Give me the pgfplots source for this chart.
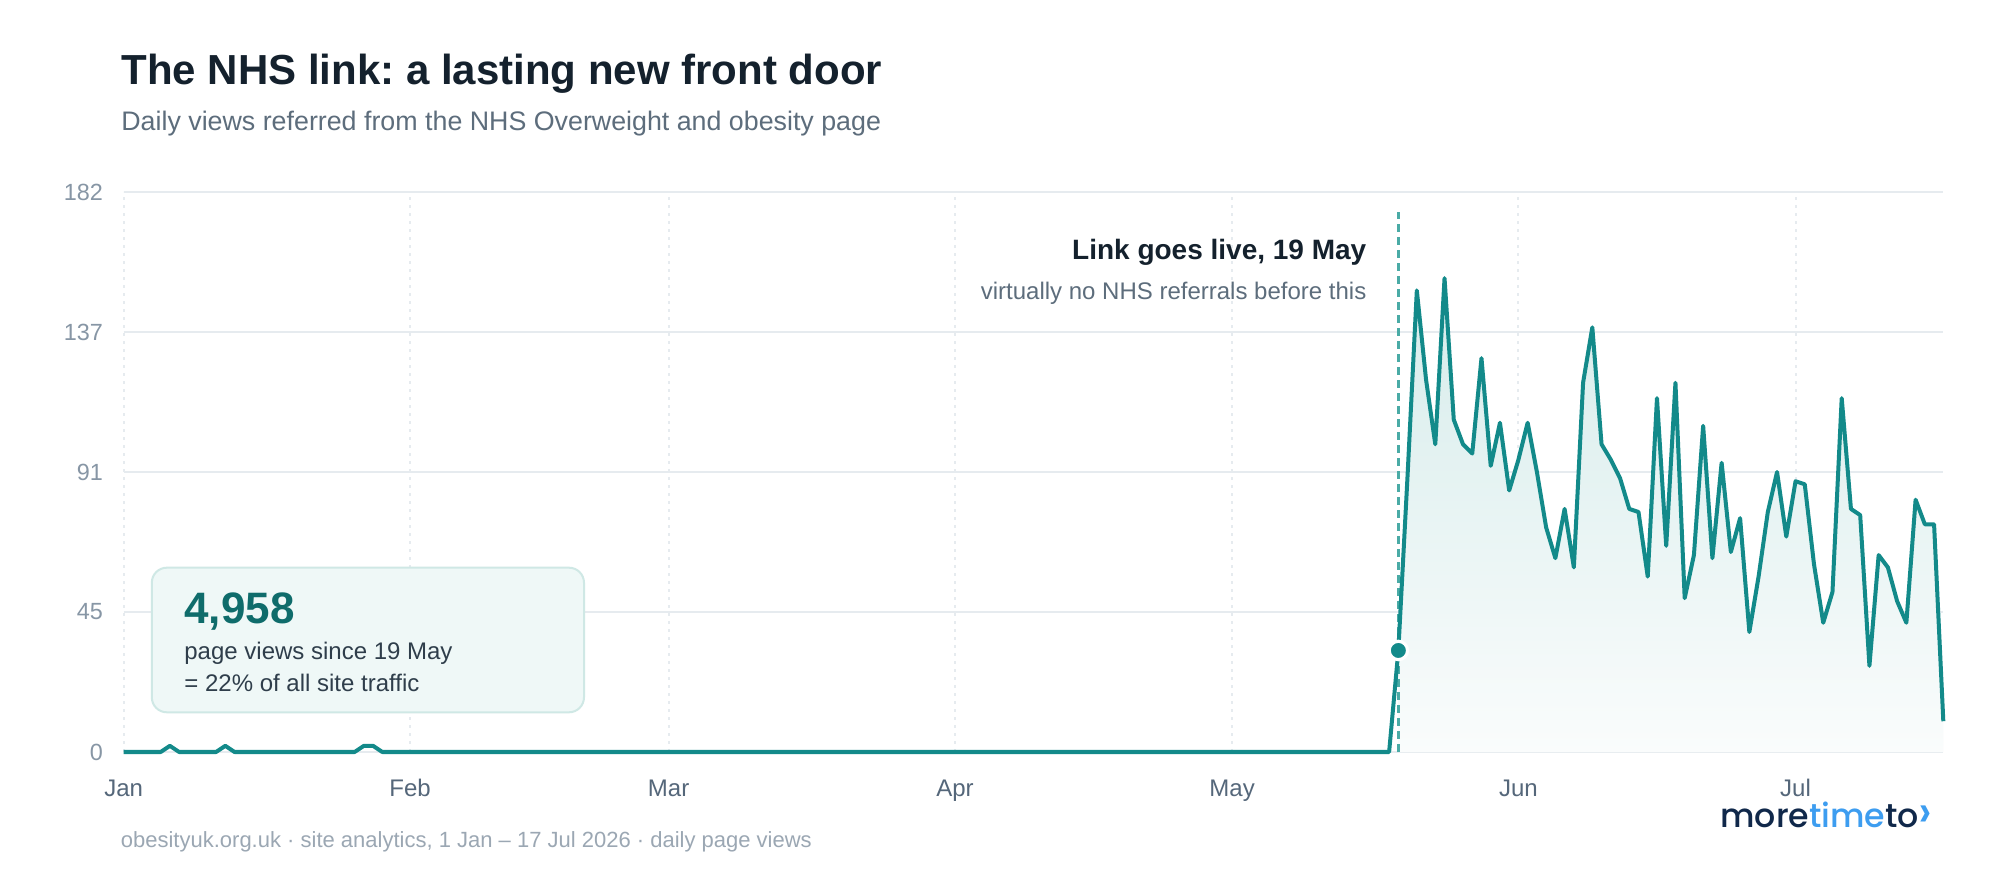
\documentclass[border=0pt]{standalone}
\usepackage{pgfplots}
\pgfplotsset{compat=1.18}
\usepackage{pgfplotstable}
\usepackage{fontspec}
\setmainfont{Liberation Sans}
\newfontfamily\logofont{Poppins Medium}
\frenchspacing

\definecolor{ink}{HTML}{14212D}
\definecolor{subink}{HTML}{5D6D7C}
\definecolor{ytickc}{HTML}{8796A5}
\definecolor{xtickc}{HTML}{55677A}
\definecolor{footc}{HTML}{9BA7B3}
\definecolor{gridc}{HTML}{E6EBEF}
\definecolor{tealline}{HTML}{138A8A}
\definecolor{tealdash}{HTML}{4AABA6}
\definecolor{fillTop}{HTML}{D6ECEB}
\definecolor{fillBot}{HTML}{FAFCFC}
\definecolor{boxfill}{HTML}{EFF8F7}
\definecolor{boxline}{HTML}{CFE8E5}
\definecolor{bignum}{HTML}{0F6C6B}
\definecolor{boxtext}{HTML}{2F3E4B}
\definecolor{navy}{HTML}{10284A}
\definecolor{brandblue}{HTML}{3D9DF0}

% daily page views referred from the NHS page, day 0 = 1 Jan 2026
\pgfplotstableread[row sep=\\]{
day views\\
0 0\\ 1 0\\ 2 0\\ 3 0\\ 4 0\\ 5 2\\ 6 0\\ 7 0\\ 8 0\\ 9 0\\
10 0\\ 11 2\\ 12 0\\ 13 0\\ 14 0\\ 15 0\\ 16 0\\ 17 0\\ 18 0\\ 19 0\\
20 0\\ 21 0\\ 22 0\\ 23 0\\ 24 0\\ 25 0\\ 26 2\\ 27 2\\ 28 0\\ 29 0\\
30 0\\ 31 0\\ 32 0\\ 33 0\\ 34 0\\ 35 0\\ 36 0\\ 37 0\\ 38 0\\ 39 0\\
40 0\\ 41 0\\ 42 0\\ 43 0\\ 44 0\\ 45 0\\ 46 0\\ 47 0\\ 48 0\\ 49 0\\
50 0\\ 51 0\\ 52 0\\ 53 0\\ 54 0\\ 55 0\\ 56 0\\ 57 0\\ 58 0\\ 59 0\\
60 0\\ 61 0\\ 62 0\\ 63 0\\ 64 0\\ 65 0\\ 66 0\\ 67 0\\ 68 0\\ 69 0\\
70 0\\ 71 0\\ 72 0\\ 73 0\\ 74 0\\ 75 0\\ 76 0\\ 77 0\\ 78 0\\ 79 0\\
80 0\\ 81 0\\ 82 0\\ 83 0\\ 84 0\\ 85 0\\ 86 0\\ 87 0\\ 88 0\\ 89 0\\
90 0\\ 91 0\\ 92 0\\ 93 0\\ 94 0\\ 95 0\\ 96 0\\ 97 0\\ 98 0\\ 99 0\\
100 0\\ 101 0\\ 102 0\\ 103 0\\ 104 0\\ 105 0\\ 106 0\\ 107 0\\ 108 0\\ 109 0\\
110 0\\ 111 0\\ 112 0\\ 113 0\\ 114 0\\ 115 0\\ 116 0\\ 117 0\\ 118 0\\ 119 0\\
120 0\\ 121 0\\ 122 0\\ 123 0\\ 124 0\\ 125 0\\ 126 0\\ 127 0\\ 128 0\\ 129 0\\
130 0\\ 131 0\\ 132 0\\ 133 0\\ 134 0\\ 135 0\\ 136 0\\ 137 0\\ 138 33\\ 139 90\\
140 150\\ 141 121\\ 142 100\\ 143 154\\ 144 108\\ 145 100\\ 146 97\\ 147 128\\ 148 93\\ 149 107\\
150 85\\ 151 95\\ 152 107\\ 153 91\\ 154 73\\ 155 63\\ 156 79\\ 157 60\\ 158 120\\ 159 138\\
160 100\\ 161 95\\ 162 89\\ 163 79\\ 164 78\\ 165 57\\ 166 115\\ 167 67\\ 168 120\\ 169 50\\
170 64\\ 171 106\\ 172 63\\ 173 94\\ 174 65\\ 175 76\\ 176 39\\ 177 57\\ 178 78\\ 179 91\\
180 70\\ 181 88\\ 182 87\\ 183 61\\ 184 42\\ 185 52\\ 186 115\\ 187 79\\ 188 77\\ 189 28\\
190 64\\ 191 60\\ 192 49\\ 193 42\\ 194 82\\ 195 74\\ 196 74\\ 197 10\\
}\views

\begin{document}
\begin{tikzpicture}
\path[fill=white] (0,0) rectangle (1000bp,440bp);

\begin{axis}[
    at={(61.85bp,64bp)}, anchor=south west,
    scale only axis, width=909.8bp, height=280bp,
    xmin=0, xmax=197, ymin=0, ymax=182,
    clip=false,
    axis line style={draw=none},
    major tick length=0pt,
    xtick={0,31,59,90,120,151,181},
    xticklabels={Jan,Feb,Mar,Apr,May,Jun,Jul},
    ytick={0,45.5,91,136.5,182},
    yticklabels={0,45,91,137,182},
    xmajorgrids, ymajorgrids,
    major x grid style={draw=gridc, line width=1bp, dash pattern=on 1.5bp off 2.5bp},
    major y grid style={draw=gridc, line width=1bp},
    xticklabel style={anchor=base, inner sep=0pt, yshift=-22bp, text=xtickc,
        font=\fontsize{12bp}{14bp}\selectfont},
    yticklabel style={anchor=east, inner sep=0pt, xshift=-10.2bp, text=ytickc,
        font=\fontsize{11.7bp}{14bp}\selectfont},
]
% shaded area after the link went live
\addplot[draw=none, top color=fillTop, bottom color=fillBot,
    restrict x to domain=138:197]
    table[x=day, y=views] {\views} \closedcycle;
% launch marker line
\draw[tealdash, line width=1.25bp, dash pattern=on 4bp off 2.5bp]
    (axis cs:138,0) -- (axis cs:138,175.5);
\addplot[tealline, line width=2bp, line join=round, mark=none]
    table[x=day, y=views] {\views};
\addplot[only marks, mark=*, mark size=4.6bp,
    mark options={fill=tealline, draw=white, line width=1.6bp}]
    coordinates {(138,33)};
\end{axis}

% titles
\node[anchor=base west, inner sep=0pt, text=ink,
    font=\fontsize{21bp}{24bp}\selectfont\bfseries] at (60.5bp,397.5bp)
    {The NHS link: a lasting new front door};
\node[anchor=base west, inner sep=0pt, text=subink,
    font=\fontsize{13.4bp}{16bp}\selectfont] at (60.5bp,374.65bp)
    {Daily views referred from the NHS Overweight and obesity page};

% annotation for the launch
\node[anchor=base east, inner sep=0pt, text=ink,
    font=\fontsize{14bp}{16bp}\selectfont\bfseries] at (683.35bp,310bp)
    {Link goes live, 19 May};
\node[anchor=base east, inner sep=0pt, text=subink,
    font=\fontsize{12bp}{14bp}\selectfont] at (683.35bp,290bp)
    {virtually no NHS referrals before this};

% callout box
\draw[fill=boxfill, draw=boxline, line width=1bp, rounded corners=7.5bp]
    (75.9bp,83.85bp) rectangle (292bp,156.15bp);
\node[anchor=base west, inner sep=0pt, text=bignum,
    font=\fontsize{22bp}{24bp}\selectfont\bfseries] at (92bp,128.35bp) {4,958};
\node[anchor=base west, inner sep=0pt, text=boxtext,
    font=\fontsize{12bp}{14bp}\selectfont] at (92bp,110.35bp)
    {page views since 19 May};
\node[anchor=base west, inner sep=0pt, text=boxtext,
    font=\fontsize{12bp}{14bp}\selectfont] at (92bp,94.15bp)
    {= 22\% of all site traffic};

% footer and logo
\node[anchor=base west, inner sep=0pt, text=footc,
    font=\fontsize{11bp}{13bp}\selectfont] at (60.25bp,16.35bp)
    {obesityuk.org.uk · site analytics, 1 Jan – 17 Jul 2026 · daily page views};
\node[anchor=base west, inner sep=0pt,
    font=\fontsize{16.6bp}{20bp}\logofont] at (860bp,26.15bp)
    {\textcolor{navy}{more}\textcolor{brandblue}{time}\textcolor{navy}{to}\textcolor{brandblue}{\fontsize{23bp}{20bp}\selectfont ›}};
\end{tikzpicture}
\end{document}
